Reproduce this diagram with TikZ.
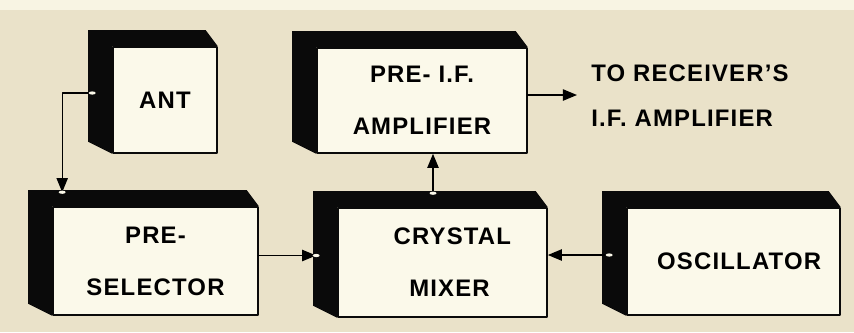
\documentclass[tikz,border=0pt]{standalone}
\usepackage{fontspec}
\usepackage{tikz}
\usetikzlibrary{arrows.meta,calc}
\newfontfamily\blockfont{Liberation Sans}[LetterSpace=5]
\definecolor{eae2c9}{rgb}{0.918,0.886,0.788}
\definecolor{f8f4e3}{rgb}{0.973,0.957,0.890}
\definecolor{fbf9ea}{rgb}{0.984,0.976,0.918}
\definecolor{qqqqqq}{rgb}{0.04,0.04,0.04}
\tikzset{block/.style={draw=qqqqqq,line width=1.1pt,fill=fbf9ea,inner sep=0pt,align=center,font=\blockfont\bfseries\fontsize{17}{20}\selectfont},
  note/.style={inner sep=0pt,align=left,font=\blockfont\bfseries\fontsize{17}{20}\selectfont},
  wire/.style={line width=1.1pt,-{Triangle[length=10pt,width=8pt]}}}
\newcommand{\boxshade}[1]{\fill [qqqqqq] ($(#1.north west)+(-24,-16)$) -- ($(#1.north east)+(-12,-16)$) -- (#1.north east) -- (#1.north west) -- (#1.south west) -- ($(#1.south west)+(-24,-12)$) -- cycle;}
\newcommand{\jack}[1]{\fill [fbf9ea] (#1) ellipse (3.5 and 1.6);}
\begin{document}
\begin{tikzpicture}[line cap=round,line join=round,x=0.025cm,y=-0.025cm]
\useasboundingbox (0,0) rectangle (854,332);
\fill [eae2c9] (0,0) rectangle (854,332);
\fill [f8f4e3] (0,0) rectangle (854,10);
\node [block,minimum width=2.6cm,minimum height=2.65cm] (ant) at (165,100) {ANT};
\node [block,minimum width=5.125cm,minimum height=2.7cm] (pre) at (155.5,261) {PRE-\\[17pt]SELECTOR};
\node [block,minimum width=5.25cm,minimum height=2.625cm] (amp) at (422,100.5) {PRE- I.F.\\[17pt]AMPLIFIER};
\node [block,minimum width=5.225cm,minimum height=2.725cm] (mix) at (442.5,262.5) {\hspace*{14pt}CRYSTAL\\[17pt]\hspace*{10pt}MIXER};
\node [block,minimum width=5.325cm,minimum height=2.675cm] (osc) at (733.5,261.5) {\hspace*{8pt}OSCILLATOR};
\boxshade{ant}
\boxshade{pre}
\boxshade{amp}
\boxshade{mix}
\boxshade{osc}
\node [note,anchor=west] (dest) at (591,95.5) {TO RECEIVER’S\\[12pt]I.F. AMPLIFIER};
\coordinate (antout) at ($(ant.west)+(-20,-7)$);
\coordinate (prein) at ($(pre.north west)+(10,-14)$);
\coordinate (mixin) at ($(mix.west)+(-21,-7)$);
\coordinate (mixout) at ($(mix.north)+(-9.5,-14)$);
\coordinate (oscout) at ($(osc.west)+(-17,-6.5)$);
\coordinate (out) at (577,95);
\draw [wire,line width=0.8pt] (antout) -| (prein);
\draw [wire] (pre.east |- mixin) -- (mixin);
\draw [wire] (mixout) -- (mixout |- amp.south);
\draw [wire] (amp.east |- out) -- (out);
\draw [wire] (oscout) -- (oscout -| mix.east);
\jack{antout}
\jack{prein}
\jack{mixin}
\jack{mixout}
\jack{oscout}
\end{tikzpicture}
\end{document}
